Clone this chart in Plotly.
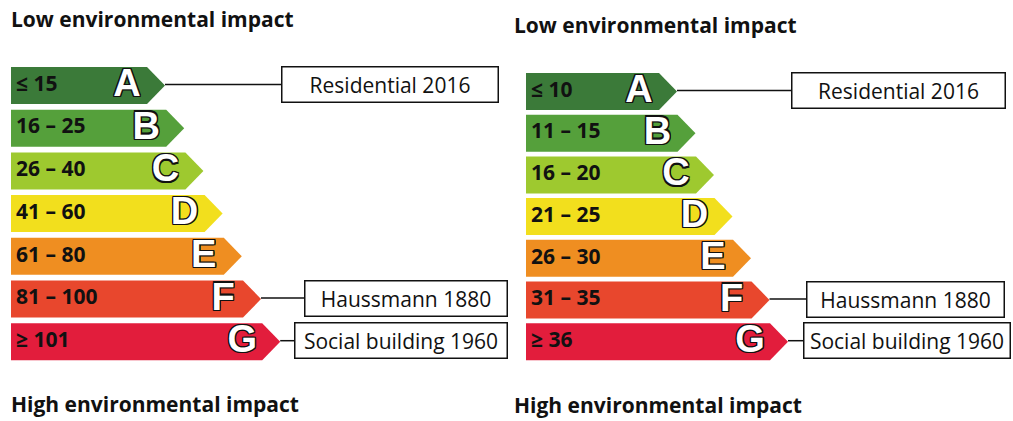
import plotly.graph_objects as go

# Energy classes and their thresholds (two rating scales)
CLASSES = ["A", "B", "C", "D", "E", "F", "G"]
LEFT_RANGES = ["≤ 15", "16 – 25", "26 – 40", "41 – 60", "61 – 80", "81 – 100", "≥ 101"]
RIGHT_RANGES = ["≤ 10", "11 – 15", "16 – 20", "21 – 25", "26 – 30", "31 – 35", "≥ 36"]

# Reference buildings and the class they land in on each scale
BUILDINGS = ["Residential 2016", "Haussmann 1880", "Social building 1960"]
LEFT_BUILDING_CLASS = ["A", "F", "G"]
RIGHT_BUILDING_CLASS = ["A", "F", "G"]

TOP_TITLE = "Low environmental impact"
BOTTOM_TITLE = "High environmental impact"

CLASS_COLORS = ["#3b7a39", "#55a03b", "#9ec92f", "#f2df1d", "#ef8e21", "#e8472d", "#e21d3c"]

W, H = 1013, 421
FONT = "'Open Sans', Lato, sans-serif"
OUTLINE = ("-1.2px -1.2px 0 #111, 1.2px -1.2px 0 #111, -1.2px 1.2px 0 #111, "
           "1.2px 1.2px 0 #111, 0 1.2px 0 #111, 0 -1.2px 0 #111, 1.2px 0 0 #111, -1.2px 0 0 #111")

# panel layout (pixel-like axis units, y grows downward)
PANELS = [
    dict(ranges=LEFT_RANGES, bclass=LEFT_BUILDING_CLASS, x0=11, tip0=165, step=19.2,
         top0=67, pitch=42.7, title_x=9, title_y=19, bottom_y=404,
         boxes=[(281, 217), (304, 203), (294, 213)]),
    dict(ranges=RIGHT_RANGES, bclass=RIGHT_BUILDING_CLASS, x0=526, tip0=677, step=18.5,
         top0=73, pitch=41.7, title_x=512, title_y=25, bottom_y=405,
         boxes=[(791, 214), (806, 198), (803, 207)]),
]
BAR_H = 37
DEPTH = 18

fig = go.Figure()
annotations = []

for p in PANELS:
    tips, mids = [], []
    for i, cls in enumerate(CLASSES):
        top = p["top0"] + i * p["pitch"]
        bot = top + BAR_H
        mid = (top + bot) / 2
        tip = p["tip0"] + i * p["step"]
        tips.append(tip)
        mids.append(mid)
        fig.add_trace(go.Scatter(
            x=[p["x0"], tip - DEPTH, tip, tip - DEPTH, p["x0"], p["x0"]],
            y=[top, top, mid, bot, bot, top],
            mode="lines", fill="toself", fillcolor=CLASS_COLORS[i],
            line=dict(width=0), hoverinfo="skip", showlegend=False,
        ))

    # range labels
    fig.add_trace(go.Scatter(
        x=[p["x0"] + 5] * len(CLASSES), y=mids, text=p["ranges"],
        mode="text", textposition="middle right",
        textfont=dict(family=FONT, size=21, color="#111", weight="bold"),
        hoverinfo="skip", showlegend=False,
    ))
    # class letters (white with dark outline)
    fig.add_trace(go.Scatter(
        x=[t - 38 for t in tips], y=[m + 1 for m in mids], text=CLASSES,
        mode="text", textposition="middle center",
        textfont=dict(family="Liberation Sans, Arial, sans-serif", size=38,
                      color="white", weight="bold", shadow=OUTLINE),
        hoverinfo="skip", showlegend=False,
    ))

    # building boxes and connectors
    for name, cls, (bx, bw) in zip(BUILDINGS, p["bclass"], p["boxes"]):
        k = CLASSES.index(cls)
        fig.add_trace(go.Scatter(
            x=[tips[k], bx], y=[mids[k] - 1, mids[k] - 1], mode="lines",
            line=dict(color="#111", width=1.5), hoverinfo="skip", showlegend=False,
        ))
        annotations.append(dict(
            x=bx, y=mids[k] - 1, xref="x", yref="y", xanchor="left", yanchor="middle",
            text=name, showarrow=False, width=bw - 2, height=BAR_H - 3,
            align="center", valign="middle", bordercolor="#111", borderwidth=1.5,
            borderpad=0, bgcolor="white",
            font=dict(family=FONT, size=21, color="#111"),
        ))

    for txt, ty in [(TOP_TITLE, p["title_y"]), (BOTTOM_TITLE, p["bottom_y"])]:
        annotations.append(dict(
            x=p["title_x"], y=ty, xref="x", yref="y", xanchor="left", yanchor="middle",
            text=txt, showarrow=False,
            font=dict(family=FONT, size=21, color="#111", weight="bold"),
        ))

fig.update_layout(
    width=W, height=H,
    margin=dict(l=0, r=0, t=0, b=0),
    paper_bgcolor="white", plot_bgcolor="white",
    xaxis=dict(range=[0, W], visible=False, fixedrange=True),
    yaxis=dict(range=[H, 0], visible=False, fixedrange=True),
    annotations=annotations,
)

# drop the browser's default page margin so the figure sits at the top-left corner
fig.write_html(
    "out.html",
    config={"displayModeBar": False},
    post_script="document.body.style.margin='0';",
)
